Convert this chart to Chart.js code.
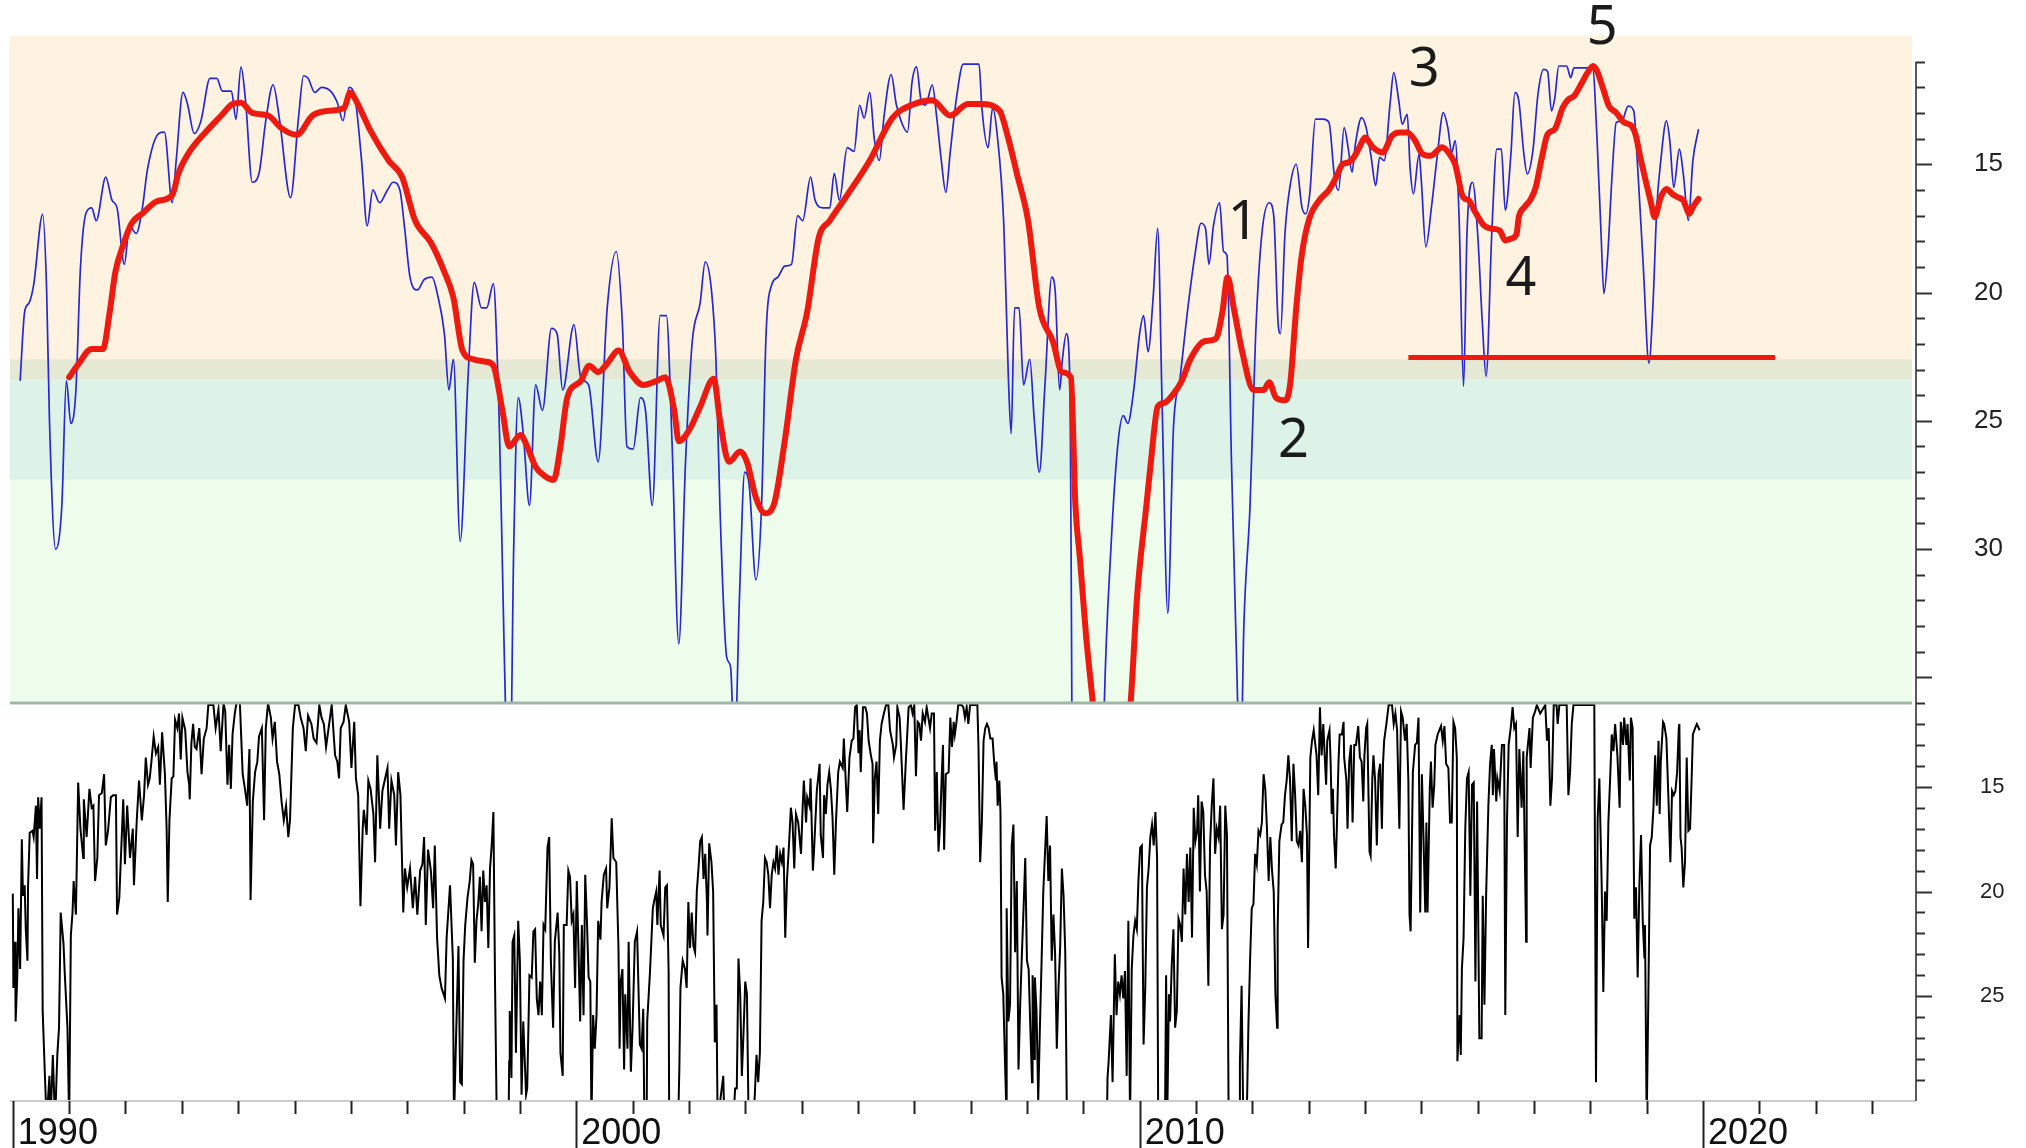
<!DOCTYPE html>
<html>
<head>
<meta charset="utf-8">
<script src="https://cdn.jsdelivr.net/npm/chart.js@4.4.1/dist/chart.umd.min.js"></script>
<style>
  html, body { margin: 0; padding: 0; background: #ffffff; }
  #wrap { width: 2026px; height: 1148px; position: relative; }
</style>
</head>
<body>
<div id="wrap"><canvas id="chart"></canvas></div>
<script>
// ---- data: [year, value] ----

// thin blue line, upper panel
const blueSmooth = [
  [1990.13,23.44],[1990.21,20.75],[1990.29,20.4],[1990.37,19.7],[1990.53,16.95],[1990.6,19.9],[1990.65,24.96],[1990.76,30.0],[1990.87,28.3],[1990.95,23.44],
  [1991.03,25.1],[1991.12,23.8],[1991.2,19.06],[1991.3,16.9],[1991.4,16.7],[1991.48,17.2],[1991.65,15.5],[1991.76,16.4],[1991.85,16.7],[1991.98,18.9],
  [1992.07,17.4],[1992.19,17.7],[1992.3,16.7],[1992.39,15.2],[1992.59,13.8],[1992.69,13.75],[1992.83,16.5],[1992.9,14.85],
  [1993.02,12.2],[1993.1,12.65],[1993.22,13.8],[1993.34,13.3],[1993.5,11.65],[1993.62,11.65],[1993.72,12.15],[1993.88,12.15],[1993.96,13.25],
  [1994.05,11.2],[1994.13,12.5],[1994.25,15.7],[1994.37,15.35],[1994.49,13.3],[1994.62,11.9],[1994.73,13.2],[1994.93,16.3],
  [1995.07,13.2],[1995.16,11.55],[1995.24,11.65],[1995.36,12.2],[1995.48,12.0],[1995.64,12.15],[1995.76,12.6],[1995.86,13.3],[1995.97,12.0],
  [1996.08,12.5],[1996.19,14.85],[1996.29,17.4],[1996.39,16.0],[1996.51,16.5],[1996.65,16.0],[1996.75,15.7],[1996.87,16.0],[1996.95,17.4],
  [1997.05,19.4],[1997.18,19.9],[1997.3,19.5],[1997.44,19.4],[1997.54,20.1],[1997.66,21.6],[1997.74,23.8],[1997.82,22.6],[1997.94,29.7],
  [1998.08,23.3],[1998.19,19.6],[1998.32,20.6],[1998.41,20.6],[1998.53,19.65],[1998.61,23.3],[1998.82,40],[1998.89,30.0],[1998.97,24.1],
  [1999.06,25.5],[1999.17,28.3],[1999.28,23.6],[1999.4,24.6],[1999.56,21.4],[1999.66,21.6],[1999.76,23.8],[1999.96,21.25],
  [2000.08,23.3],[2000.22,23.6],[2000.39,26.6],[2000.55,20.6],[2000.71,18.4],[2000.82,21.25],[2000.9,26.0],
  [2001.01,26.1],[2001.14,24.1],[2001.23,24.6],[2001.35,28.3],[2001.49,20.9],[2001.6,20.9],[2001.7,25.8],[2001.82,33.7],[2001.94,26.6],
  [2002.06,21.9],[2002.2,20.4],[2002.29,18.8],[2002.4,19.9],[2002.48,22.6],[2002.55,28.3],[2002.67,34.2],[2002.74,34.6],[2002.81,38],[2002.9,31.7],[2002.99,27.0],
  [2003.07,27.5],[2003.19,31.2],[2003.29,28.3],[2003.37,21.6],[2003.47,19.7],[2003.58,19.4],[2003.7,18.97],[2003.82,18.9],[2003.93,17.0],
  [2004.02,17.2],[2004.16,15.5],[2004.24,16.4],[2004.38,16.7],[2004.5,16.7],[2004.58,15.35],[2004.67,16.4],[2004.81,14.35],[2004.93,14.5],
  [2005.03,12.7],[2005.11,13.2],[2005.21,12.2],[2005.29,14.0],[2005.38,14.85],[2005.46,13.2],[2005.59,11.5],[2005.68,12.65],[2005.8,13.5],[2005.88,13.75],[2005.96,11.8],
  [2006.04,11.2],[2006.12,12.5],[2006.2,12.7],[2006.32,11.9],[2006.4,13.2],[2006.48,14.85],[2006.56,16.1],[2006.64,14.5],[2006.75,12.4],[2006.87,11.1],
  [2007.15,11.1],[2007.2,12.8],[2007.31,14.35],[2007.39,12.8],[2007.47,13.8],[2007.59,17.4],[2007.67,23.3],[2007.72,25.5],[2007.78,20.6],[2007.86,20.6],[2007.94,23.6],
  [2008.05,22.6],[2008.13,24.96],[2008.22,27.0],[2008.32,23.6],[2008.44,19.4],[2008.5,19.9],[2008.58,23.8],[2008.63,22.6],[2008.7,21.6],[2008.76,23.3],[2008.84,50],
  [2009.3,45],[2009.37,36.3],[2009.49,30.0],[2009.61,26.0],[2009.71,24.8],[2009.79,25.1],[2009.89,23.9],
  [2010.0,21.6],[2010.07,20.9],[2010.15,22.3],[2010.24,20.2],[2010.32,17.5],[2010.4,24.45],[2010.5,32.5],[2010.6,25.3],[2010.72,23.3],[2010.84,20.9],[2010.98,18.56],
  [2011.09,17.3],[2011.17,17.5],[2011.23,18.9],[2011.31,17.4],[2011.42,16.5],[2011.49,18.4],[2011.55,18.56],[2011.63,26.6],[2011.71,33.4],[2011.79,39],[2011.85,33.0],[2011.96,28.3],
  [2012.06,21.6],[2012.17,17.7],[2012.3,16.5],[2012.38,17.0],[2012.46,21.25],[2012.5,21.6],[2012.58,17.7],[2012.67,15.85],[2012.78,15.0],[2012.88,16.67],[2012.95,16.93],
  [2013.02,16.15],[2013.12,13.24],[2013.26,13.24],[2013.36,13.37],[2013.46,15.51],[2013.53,16.02],[2013.63,13.57],[2013.7,14.34],[2013.77,15.31],[2013.83,14.21],[2013.94,13.18],
  [2014.02,13.57],[2014.11,14.73],[2014.19,15.83],[2014.26,14.73],[2014.34,14.86],[2014.45,12.53],[2014.51,11.43],[2014.6,12.53],[2014.66,13.44],[2014.75,13.05],[2014.8,15.12],[2014.86,16.15],[2014.96,14.6],
  [2015.0,15.64],[2015.08,18.22],[2015.18,16.67],[2015.28,14.73],[2015.39,12.99],[2015.47,13.57],[2015.54,14.54],[2015.6,14.08],[2015.67,17.06],[2015.75,23.66],[2015.81,17.71],[2015.91,15.7],
  [2016.0,17.71],[2016.08,21.07],[2016.15,23.27],[2016.25,17.71],[2016.34,14.41],[2016.42,14.41],[2016.49,16.8],[2016.59,14.6],[2016.66,12.21],[2016.73,12.53],[2016.82,14.6],[2016.88,15.38],[2016.98,14.47],
  [2017.07,12.27],[2017.17,11.3],[2017.24,11.37],[2017.31,12.92],[2017.37,12.4],[2017.44,11.17],[2017.58,11.17],[2017.65,11.62],[2017.71,11.24],[2017.78,11.24],
  [2018.04,11.24],[2018.12,14.08],[2018.19,17.71],[2018.24,20.04],[2018.31,18.48],[2018.38,15.64],[2018.46,13.37],[2018.56,13.31],[2018.67,12.73],[2018.77,12.92],[2018.84,15.12],[2018.94,19.0],
  [2019.04,22.75],[2019.11,20.55],[2019.18,16.67],[2019.25,14.86],[2019.35,13.31],[2019.41,14.08],[2019.48,15.9],[2019.58,14.41],[2019.65,15.38],[2019.74,17.19],[2019.82,14.86],[2019.92,13.63]
];

// thick red average, upper panel
const redAverage = [
  [1991.0,23.3],[1991.16,22.8],[1991.4,22.2],[1991.6,22.2],[1991.72,20.75],[1991.82,19.2],[1991.95,18.2],
  [1992.11,17.3],[1992.31,16.9],[1992.55,16.45],[1992.83,16.2],[1992.94,15.35],
  [1993.14,14.5],[1993.42,13.75],[1993.7,13.1],[1993.9,12.65],
  [1994.05,12.6],[1994.25,13.0],[1994.53,13.1],[1994.77,13.6],
  [1995.04,13.85],[1995.32,13.1],[1995.68,12.9],[1995.88,12.8],[1995.99,12.2],
  [1996.11,12.6],[1996.35,13.7],[1996.67,14.85],[1996.91,15.5],
  [1997.14,17.2],[1997.42,18.05],[1997.66,19.2],[1997.82,20.2],[1997.98,22.25],
  [1998.17,22.6],[1998.41,22.7],[1998.53,22.85],[1998.69,24.6],[1998.81,26.0],
  [1999.01,25.55],[1999.13,26.0],[1999.28,26.8],[1999.44,27.15],[1999.6,27.3],[1999.72,26.0],[1999.84,24.1],
  [2000.08,23.45],[2000.23,22.85],[2000.39,23.1],[2000.55,22.77],[2000.75,22.26],[2000.95,23.1],
  [2001.19,23.6],[2001.42,23.45],[2001.58,23.3],[2001.74,24.6],[2001.82,25.8],
  [2002.02,25.3],[2002.2,24.45],[2002.44,23.36],[2002.55,24.96],[2002.71,26.6],[2002.91,26.2],
  [2003.03,26.6],[2003.19,28.0],[2003.35,28.6],[2003.51,28.25],[2003.7,25.8],[2003.9,22.6],
  [2004.1,20.75],[2004.3,17.9],[2004.5,17.2],[2004.81,16.2],
  [2005.21,14.85],[2005.61,13.2],
  [2006.0,12.65],[2006.32,12.5],[2006.64,13.1],[2006.95,12.65],
  [2007.19,12.65],[2007.51,12.9],[2007.67,14.0],[2007.82,15.35],
  [2008.02,17.2],[2008.22,20.6],[2008.46,21.9],[2008.62,23.1],[2008.78,23.3],[2008.86,28.3],[2008.94,30.35],
  [2009.05,33.4],[2009.17,36.0],[2009.3,39],[2009.7,39],[2009.84,36],[2009.96,31.7],
  [2010.12,28.3],[2010.2,26.6],[2010.32,24.45],[2010.44,24.3],[2010.6,23.95],[2010.75,23.44],[2010.9,22.6],
  [2011.15,21.9],[2011.35,21.8],[2011.47,20.75],[2011.56,19.4],[2011.67,20.6],[2011.83,22.4],
  [2012.02,23.8],[2012.2,23.8],[2012.3,23.5],[2012.42,24.1],[2012.58,24.2],[2012.67,23.6],[2012.78,20.6],[2012.88,18.5],
  [2013.02,17.06],[2013.19,16.4],[2013.36,16.0],[2013.49,15.5],[2013.6,15.0],[2013.7,14.93],[2013.8,14.73],[2013.9,14.34],
  [2014.0,13.96],[2014.14,14.34],[2014.31,14.54],[2014.48,13.89],[2014.62,13.76],[2014.75,13.76],[2014.89,14.08],
  [2015.02,14.6],[2015.16,14.67],[2015.37,14.34],[2015.5,14.6],[2015.6,15.0],[2015.74,16.28],[2015.84,16.4],[2015.94,16.8],
  [2016.11,17.38],[2016.25,17.51],[2016.39,17.58],[2016.49,17.97],[2016.59,17.9],[2016.69,17.71],[2016.73,17.06],[2016.83,16.67],[2016.93,16.4],
  [2017.03,15.9],[2017.14,14.73],[2017.24,13.83],[2017.37,13.63],[2017.51,12.79],[2017.61,12.47],[2017.71,12.34],[2017.85,11.82],[2017.95,11.43],
  [2018.05,11.17],[2018.12,11.37],[2018.22,12.01],[2018.33,12.73],[2018.46,12.99],[2018.6,13.37],[2018.73,13.5],[2018.8,13.83],[2018.9,14.86],
  [2019.01,15.9],[2019.08,16.54],[2019.14,17.06],[2019.25,16.28],[2019.35,15.96],[2019.45,16.15],[2019.55,16.28],[2019.65,16.41],[2019.76,16.93],[2019.82,16.67],[2019.92,16.35]
];

// horizontal red support line
const supportYears = [2014.77, 2021.28];
const supportLevel = 22.53;

// black raw line, lower panel
const blackWeekly = [
  [1990.00,20.1],[1990.01,24.6],[1990.04,22.4],[1990.05,26.2],[1990.08,24.0],[1990.10,20.8],[1990.13,23.7],[1990.16,17.5],[1990.18,20.2],[1990.21,19.7],[1990.23,21.8],[1990.26,23.3],[1990.27,19.8],[1990.30,17.2],[1990.35,17.1],[1990.37,17.4],[1990.41,15.9],[1990.43,19.4],[1990.45,15.5],[1990.48,17.0],[1990.51,15.5],[1990.53,25.7],[1990.57,28.8],[1990.60,31],[1990.65,28.8],[1990.67,31],[1990.71,27.8],[1990.75,31],[1990.79,27.8],[1990.82,26.5],[1990.85,21.0],[1990.90,22.5],[1990.92,23.8],[1990.97,26.5],
  [1991.00,31],[1991.03,22.1],[1991.06,21.0],[1991.08,19.5],[1991.12,21.1],[1991.16,14.8],[1991.20,17.0],[1991.25,18.4],[1991.26,15.6],[1991.31,17.4],[1991.36,15.1],[1991.40,16.0],[1991.43,15.9],[1991.46,19.5],[1991.50,18.4],[1991.53,15.4],[1991.58,15.3],[1991.62,14.4],[1991.65,17.8],[1991.69,17.1],[1991.74,15.5],[1991.78,15.4],[1991.83,15.4],[1991.85,21.1],[1991.89,20.3],[1991.96,15.6],[1991.99,18.7],
  [1992.03,15.9],[1992.08,18.4],[1992.13,17.0],[1992.15,19.7],[1992.20,16.6],[1992.24,14.7],[1992.29,16.6],[1992.33,15.4],[1992.36,13.6],[1992.40,14.9],[1992.43,14.6],[1992.46,13.8],[1992.50,12.6],[1992.54,13.4],[1992.58,13.1],[1992.61,14.9],[1992.65,12.4],[1992.70,14.4],[1992.73,17.0],[1992.75,20.5],[1992.78,16.6],[1992.82,14.6],[1992.85,14.5],[1992.88,11.8],[1992.92,12.2],[1992.95,11.5],[1992.98,13.7],
  [1993.01,11.7],[1993.06,12.3],[1993.10,14.3],[1993.13,14.9],[1993.14,15.6],[1993.17,12.9],[1993.20,12.0],[1993.23,13.1],[1993.26,13.2],[1993.31,12.2],[1993.35,14.4],[1993.39,12.7],[1993.44,12.2],[1993.47,11.1],[1993.56,11.1],[1993.60,12.2],[1993.65,11.3],[1993.69,13.3],[1993.74,11.0],[1993.77,11.4],[1993.81,14.9],[1993.84,13.0],[1993.87,15.1],[1993.90,12.5],[1993.94,11.5],[1993.97,11.0],
  [1994.03,11.0],[1994.08,14.4],[1994.12,15.1],[1994.16,15.9],[1994.20,13.2],[1994.22,20.4],[1994.26,15.7],[1994.30,14.3],[1994.34,13.8],[1994.37,12.6],[1994.42,12.2],[1994.46,16.6],[1994.49,12.2],[1994.53,11.0],[1994.58,11.7],[1994.61,12.7],[1994.65,11.9],[1994.69,13.8],[1994.73,14.4],[1994.77,15.7],[1994.81,16.6],[1994.85,15.9],[1994.89,17.4],[1994.92,16.6],[1994.97,12.2],
  [1995.01,11.1],[1995.07,11.1],[1995.11,11.7],[1995.16,12.2],[1995.20,13.3],[1995.24,11.6],[1995.30,12.0],[1995.34,12.7],[1995.39,12.9],[1995.44,11.1],[1995.48,11.7],[1995.52,12.0],[1995.56,13.1],[1995.60,12.3],[1995.66,11.1],[1995.72,13.5],[1995.76,13.8],[1995.79,14.6],[1995.82,12.2],[1995.87,11.9],[1995.91,11.1],[1995.97,11.9],
  [1996.01,14.1],[1996.06,11.9],[1996.09,14.6],[1996.13,15.4],[1996.17,20.7],[1996.21,17.0],[1996.23,16.1],[1996.28,17.3],[1996.31,14.7],[1996.35,15.1],[1996.40,16.3],[1996.43,18.6],[1996.47,13.5],[1996.52,17.0],[1996.56,15.2],[1996.60,14.7],[1996.65,14.1],[1996.68,17.0],[1996.72,14.7],[1996.77,15.4],[1996.80,17.8],[1996.84,14.3],[1996.88,15.4],[1996.93,21.0],[1996.96,18.9],
  [1997.00,19.8],[1997.05,18.9],[1997.10,20.8],[1997.14,19.3],[1997.18,21.1],[1997.23,19.0],[1997.27,18.7],[1997.30,17.4],[1997.33,21.6],[1997.37,18.0],[1997.42,19.0],[1997.46,20.8],[1997.49,17.8],[1997.53,22.2],[1997.57,24.0],[1997.61,24.6],[1997.67,25.1],[1997.70,22.2],[1997.76,19.7],[1997.81,23.2],[1997.83,31],[1997.87,26.7],[1997.91,22.6],[1997.94,29.1],[1997.97,29.2],
  [1998.00,23.3],[1998.03,21.6],[1998.07,20.3],[1998.11,19.5],[1998.14,18.5],[1998.17,18.7],[1998.20,23.4],[1998.23,21.4],[1998.26,20.6],[1998.29,19.3],[1998.32,21.9],[1998.35,19.0],[1998.38,20.5],[1998.41,19.7],[1998.44,22.7],[1998.47,18.9],[1998.50,17.8],[1998.53,16.2],[1998.56,24.6],[1998.59,31],[1998.80,31],[1998.81,28.1],[1998.82,25.7],[1998.85,28.9],[1998.87,22.4],[1998.90,22.1],[1998.93,27.7],[1998.97,21.4],
  [1999.00,23.3],[1999.03,29.7],[1999.06,26.2],[1999.11,29.7],[1999.13,29.4],[1999.17,24.0],[1999.21,24.1],[1999.24,21.9],[1999.27,21.8],[1999.30,25.1],[1999.33,25.9],[1999.36,24.3],[1999.39,25.9],[1999.42,21.6],[1999.45,21.8],[1999.49,17.9],[1999.52,17.4],[1999.55,23.3],[1999.59,26.5],[1999.62,22.4],[1999.67,21.0],[1999.70,23.0],[1999.72,27.7],[1999.76,28.8],[1999.78,21.6],[1999.83,21.6],[1999.86,19.0],[1999.89,19.3],[1999.92,21.4],[1999.95,21.1],[1999.98,24.6],
  [2000.01,19.5],[2000.04,22.7],[2000.07,26.2],[2000.10,21.6],[2000.13,25.9],[2000.16,19.2],[2000.19,21.4],[2000.22,24.1],[2000.25,24.3],[2000.27,31],[2000.30,25.9],[2000.33,27.5],[2000.36,25.9],[2000.39,21.4],[2000.43,22.3],[2000.45,20.5],[2000.49,19.2],[2000.53,18.9],[2000.55,20.8],[2000.59,19.8],[2000.63,16.5],[2000.66,18.4],[2000.71,18.6],[2000.75,22.7],[2000.77,27.5],[2000.79,24.3],[2000.82,23.7],[2000.85,28.5],[2000.87,24.9],[2000.91,27.5],[2000.93,22.4],[2000.97,28.6],
  [2001.00,26.5],[2001.04,22.4],[2001.08,21.9],[2001.13,27.3],[2001.16,27.5],[2001.19,25.6],[2001.21,31],[2001.25,31],[2001.26,26.2],[2001.31,23.8],[2001.36,20.8],[2001.38,20.5],[2001.42,20.0],[2001.44,21.6],[2001.48,19.0],[2001.50,21.6],[2001.55,22.1],[2001.58,19.8],[2001.61,19.7],[2001.64,23.8],[2001.65,31],[2001.81,31],[2001.83,28.5],[2001.85,24.6],[2001.89,23.3],[2001.93,23.7],[2001.96,24.6],[2001.99,20.5],
  [2002.02,22.7],[2002.05,21.0],[2002.08,22.6],[2002.11,22.9],[2002.14,20.0],[2002.17,18.9],[2002.20,17.6],[2002.23,17.4],[2002.26,19.4],[2002.29,18.2],[2002.32,20.5],[2002.33,22.1],[2002.36,17.7],[2002.40,18.6],[2002.43,20.0],[2002.46,27.2],[2002.49,25.4],[2002.51,31],[2002.61,28.8],[2002.63,31],[2002.79,31],[2002.82,29.4],[2002.85,29.4],[2002.88,23.2],[2002.91,24.9],[2002.94,28.8],[2002.97,26.7],
  [2003.00,24.3],[2003.03,24.9],[2003.06,31],[2003.14,31],[2003.17,29.7],[2003.20,27.8],[2003.23,29.1],[2003.26,27.7],[2003.29,21.4],[2003.32,20.5],[2003.35,18.4],[2003.38,18.6],[2003.41,19.2],[2003.44,20.8],[2003.47,19.2],[2003.50,18.6],[2003.53,18.9],[2003.56,17.8],[2003.59,19.2],[2003.62,18.2],[2003.65,18.6],[2003.68,17.9],[2003.71,22.2],[2003.74,19.5],[2003.78,17.6],[2003.81,16.0],[2003.84,16.7],[2003.87,18.9],[2003.90,16.3],[2003.94,16.7],[2003.99,18.2],
  [2004.02,15.9],[2004.04,14.7],[2004.08,16.7],[2004.10,15.5],[2004.14,15.9],[2004.16,14.6],[2004.20,19.0],[2004.22,18.1],[2004.27,15.2],[2004.32,13.9],[2004.34,17.3],[2004.38,18.4],[2004.40,15.4],[2004.43,16.3],[2004.46,14.9],[2004.49,14.3],[2004.52,15.1],[2004.55,16.5],[2004.58,19.2],[2004.61,16.7],[2004.65,14.3],[2004.68,13.8],[2004.73,14.1],[2004.75,12.7],[2004.79,15.1],[2004.81,16.2],[2004.85,13.6],[2004.89,12.8],[2004.92,12.7],[2004.95,11.2],[2004.98,11.1],
  [2005.01,13.4],[2005.03,12.3],[2005.05,14.3],[2005.09,11.2],[2005.13,11.2],[2005.16,11.5],[2005.19,12.8],[2005.23,13.5],[2005.26,13.9],[2005.27,17.7],[2005.30,14.6],[2005.33,13.8],[2005.36,16.3],[2005.39,12.8],[2005.42,12.0],[2005.46,11.5],[2005.50,11.1],[2005.54,11.1],[2005.57,12.3],[2005.62,13.0],[2005.64,13.6],[2005.68,13.0],[2005.70,11.2],[2005.74,11.7],[2005.76,12.8],[2005.81,16.1],[2005.85,13.8],[2005.90,11.2],[2005.94,11.1],[2005.97,11.5],
  [2006.00,11.1],[2006.03,14.5],[2006.06,11.9],[2006.09,12.0],[2006.12,12.8],[2006.15,11.5],[2006.19,11.9],[2006.22,11.2],[2006.25,11.7],[2006.28,12.2],[2006.31,11.5],[2006.35,11.5],[2006.37,17.1],[2006.40,14.3],[2006.43,18.1],[2006.46,16.7],[2006.49,14.3],[2006.51,13.0],[2006.53,18.0],[2006.56,14.4],[2006.61,14.3],[2006.64,11.7],[2006.67,13.1],[2006.70,11.9],[2006.72,12.5],[2006.75,11.9],[2006.78,11.1],[2006.84,11.1],[2006.87,11.2],[2006.90,11.7],[2006.93,11.2],[2006.96,12.0],[2006.99,11.1],
  [2007.08,11.1],[2007.12,11.1],[2007.14,13.1],[2007.17,18.6],[2007.20,16.7],[2007.23,12.8],[2007.26,12.2],[2007.29,12.0],[2007.32,12.2],[2007.35,12.7],[2007.39,12.7],[2007.42,13.9],[2007.45,14.7],[2007.46,13.8],[2007.48,15.9],[2007.51,14.7],[2007.53,16.2],[2007.55,24.1],[2007.58,24.9],[2007.61,28.1],[2007.63,30.0],[2007.64,20.8],[2007.67,26.2],[2007.70,25.4],[2007.73,17.8],[2007.76,16.8],[2007.79,22.9],[2007.82,19.5],[2007.85,28.5],[2007.88,25.4],[2007.91,23.0],[2007.94,20.8],[2007.97,18.4],
  [2008.00,23.3],[2008.03,23.7],[2008.06,26.5],[2008.09,29.1],[2008.10,24.0],[2008.13,28.0],[2008.14,24.1],[2008.17,25.7],[2008.20,30.0],[2008.23,26.5],[2008.26,23.3],[2008.29,20.0],[2008.32,18.2],[2008.35,16.4],[2008.38,19.5],[2008.41,17.8],[2008.44,23.3],[2008.47,21.1],[2008.50,23.0],[2008.53,27.5],[2008.56,24.6],[2008.59,22.6],[2008.62,18.9],[2008.65,20.2],[2008.68,22.9],[2008.71,31],
  [2009.42,31],[2009.43,28.9],[2009.45,28.1],[2009.49,25.9],[2009.52,29.1],[2009.56,23.0],[2009.59,25.9],[2009.62,24.3],[2009.65,24.9],[2009.68,24.0],[2009.71,25.1],[2009.74,23.8],[2009.77,28.8],[2009.80,21.4],[2009.83,31],[2009.86,23.7],[2009.89,22.1],[2009.92,21.4],[2009.95,21.8],[2009.98,19.4],
  [2010.01,17.9],[2010.04,17.8],[2010.07,27.3],[2010.10,24.6],[2010.13,19.8],[2010.16,18.9],[2010.19,17.4],[2010.22,16.8],[2010.25,17.8],[2010.28,16.2],[2010.31,18.4],[2010.33,31],[2010.45,31],[2010.47,24.0],[2010.49,31],[2010.52,24.9],[2010.54,26.2],[2010.57,23.5],[2010.60,21.8],[2010.63,26.5],[2010.66,25.7],[2010.69,21.3],[2010.72,21.6],[2010.75,22.4],[2010.78,18.9],[2010.81,21.1],[2010.84,18.2],[2010.87,20.5],[2010.90,17.9],[2010.93,22.2],[2010.96,16.0],[2010.99,17.6],
  [2011.02,17.1],[2011.04,15.4],[2011.07,20.0],[2011.10,15.7],[2011.13,16.2],[2011.16,19.2],[2011.19,20.0],[2011.22,24.5],[2011.25,17.8],[2011.28,15.9],[2011.31,14.6],[2011.34,18.2],[2011.37,17.0],[2011.40,17.4],[2011.43,15.9],[2011.46,21.8],[2011.49,21.1],[2011.52,15.9],[2011.55,17.3],[2011.58,31],[2011.77,31],[2011.78,28.2],[2011.81,24.5],[2011.84,31],[2011.90,31],[2011.93,26.5],[2011.96,23.3],[2011.99,20.8],
  [2012.02,20.6],[2012.05,18.2],[2012.08,18.7],[2012.11,17.1],[2012.14,17.3],[2012.17,16.7],[2012.20,14.4],[2012.23,15.1],[2012.26,17.0],[2012.29,19.5],[2012.32,17.4],[2012.35,19.0],[2012.38,20.0],[2012.41,24.9],[2012.44,26.5],[2012.45,21.8],[2012.48,17.6],[2012.52,16.8],[2012.55,16.7],[2012.58,15.4],[2012.61,14.7],[2012.64,13.5],[2012.67,14.7],[2012.70,17.6],[2012.73,13.9],[2012.76,15.4],[2012.79,17.6],[2012.82,17.8],[2012.85,17.1],[2012.88,18.6],[2012.91,15.1],[2012.94,15.9],[2012.97,17.3],[2012.99,22.7],
  [2013.03,13.6],[2013.06,12.8],[2013.09,12.3],[2013.11,12.8],[2013.14,13.5],[2013.17,15.4],[2013.20,11.2],[2013.23,13.5],[2013.26,12.0],[2013.29,13.8],[2013.31,14.9],[2013.33,12.8],[2013.37,12.3],[2013.39,13.8],[2013.41,16.3],[2013.43,15.1],[2013.45,17.3],[2013.48,18.9],[2013.50,17.0],[2013.53,13.8],[2013.55,12.5],[2013.59,12.5],[2013.62,11.9],[2013.63,13.6],[2013.67,14.7],[2013.69,17.0],[2013.72,13.8],[2013.75,13.0],[2013.78,16.7],[2013.81,13.0],[2013.84,13.0],[2013.88,12.1],[2013.91,13.6],[2013.94,13.8],[2013.97,15.7],[2013.99,13.5],
  [2014.02,12.2],[2014.04,12.0],[2014.08,18.1],[2014.10,18.3],[2014.13,14.6],[2014.15,13.5],[2014.18,14.7],[2014.21,17.8],[2014.24,14.4],[2014.27,13.9],[2014.30,17.0],[2014.32,13.9],[2014.34,12.8],[2014.38,12.0],[2014.42,11.1],[2014.48,11.1],[2014.51,12.0],[2014.54,11.5],[2014.57,12.3],[2014.61,17.0],[2014.64,11.4],[2014.67,11.7],[2014.71,12.8],[2014.74,12.0],[2014.77,14.7],[2014.79,21.1],[2014.81,21.9],[2014.85,14.3],[2014.89,13.0],[2014.92,12.9],[2014.95,11.7],[2014.98,21.0],
  [2015.01,14.4],[2015.04,17.6],[2015.07,21.0],[2015.09,16.7],[2015.11,21.0],[2015.15,15.1],[2015.17,13.8],[2015.20,16.0],[2015.23,14.9],[2015.25,13.0],[2015.29,12.5],[2015.32,12.3],[2015.35,12.1],[2015.38,12.8],[2015.41,12.1],[2015.44,13.9],[2015.48,14.1],[2015.51,16.7],[2015.54,16.7],[2015.57,11.9],[2015.60,12.2],[2015.63,13.6],[2015.64,28.1],[2015.68,25.9],[2015.70,27.8],[2015.72,23.7],[2015.75,22.2],[2015.78,17.0],[2015.81,14.6],[2015.84,14.3],[2015.87,20.2],[2015.90,14.9],[2015.93,14.8],[2015.96,24.3],[2015.99,15.7],
  [2016.03,27.0],[2016.07,27.0],[2016.09,20.2],[2016.12,25.4],[2016.15,20.2],[2016.19,15.9],[2016.22,13.9],[2016.25,13.0],[2016.27,15.4],[2016.29,13.2],[2016.33,15.7],[2016.35,14.6],[2016.39,15.2],[2016.43,13.0],[2016.47,13.0],[2016.49,25.9],[2016.52,16.7],[2016.55,13.0],[2016.59,12.1],[2016.62,11.2],[2016.65,12.2],[2016.68,12.0],[2016.71,17.4],[2016.74,13.2],[2016.78,16.0],[2016.81,13.3],[2016.86,22.4],[2016.87,13.6],[2016.92,12.2],[2016.94,14.1],[2016.98,11.7],
  [2017.02,11.4],[2017.05,11.1],[2017.11,11.5],[2017.20,11.1],[2017.23,12.8],[2017.26,12.2],[2017.29,15.9],[2017.32,14.6],[2017.35,11.1],[2017.40,11.1],[2017.42,12.0],[2017.45,11.1],[2017.58,11.1],[2017.61,15.4],[2017.64,14.3],[2017.67,12.0],[2017.70,11.1],
  [2018.07,11.1],[2018.10,29.1],[2018.13,16.5],[2018.16,14.6],[2018.20,19.5],[2018.23,24.8],[2018.26,20.0],[2018.29,21.4],[2018.32,16.7],[2018.35,14.7],[2018.38,12.5],[2018.41,13.3],[2018.44,12.0],[2018.48,13.5],[2018.52,16.0],[2018.54,11.9],[2018.58,13.0],[2018.60,11.7],[2018.64,13.0],[2018.66,12.0],[2018.70,14.7],[2018.72,11.7],[2018.75,12.2],[2018.78,21.3],[2018.81,19.8],[2018.84,24.1],[2018.87,19.7],[2018.90,17.3],[2018.93,21.4],[2018.96,23.2],[2018.97,21.6],
  [2019.00,31],[2019.03,24.9],[2019.06,17.8],[2019.09,17.4],[2019.12,16.0],[2019.15,13.5],[2019.18,15.9],[2019.21,12.8],[2019.23,16.3],[2019.25,13.8],[2019.29,11.9],[2019.31,12.0],[2019.35,12.7],[2019.39,15.9],[2019.42,18.6],[2019.45,15.2],[2019.48,15.4],[2019.51,15.2],[2019.54,14.3],[2019.57,12.2],[2019.58,12.0],[2019.60,17.4],[2019.62,17.9],[2019.65,19.8],[2019.68,18.6],[2019.71,13.6],[2019.74,17.1],[2019.77,17.0],[2019.80,14.4],[2019.82,12.5],[2019.86,12.2],[2019.89,12.0],[2019.94,12.3]
];

// wave count labels on the upper panel
const waveLabels = ['1', '2', '3', '4', '5'];
const waveYears  = [2011.84, 2012.73, 2015.05, 2016.77, 2018.21];
const waveLevels = [17.33, 25.8, 11.35, 19.5, 9.7];

// background zones of the upper panel (value edges, top to bottom)
const zoneEdges  = [10, 22.6, 23.4, 27.3, 36];
const zoneColors = ['#fdf3e0', '#e5e9d3', '#def3e8', '#eefcec'];

// axes
const xRange      = [1989.95, 2023.78];
const decadeYears = [1990, 2000, 2010, 2020];
const topRange    = [10, 36];
const topLabels   = [15, 20, 25, 30];
const bottomRange = [11, 30];
const bottomLabels = [15, 20, 25];

// ---------------------------------------------------------------

const toXY = s => s.map(p => ({ x: p[0], y: p[1] }));

const decor = {
  id: 'decor',
  beforeDatasetsDraw(chart) {
    const { ctx, chartArea } = chart;
    const yT = chart.scales.yTop;
    const right = chartArea.right - 4;
    ctx.save();
    for (let i = 0; i < zoneColors.length; i++) {
      const y0 = yT.getPixelForValue(zoneEdges[i]);
      const y1 = yT.getPixelForValue(zoneEdges[i + 1]);
      ctx.fillStyle = zoneColors[i];
      ctx.fillRect(chartArea.left, y0, right - chartArea.left, y1 - y0);
    }
    ctx.restore();
  },
  afterDatasetsDraw(chart) {
    const { ctx, chartArea } = chart;
    const x = chart.scales.x, yT = chart.scales.yTop, yB = chart.scales.yBottom;
    const axisX = chartArea.right;
    ctx.save();

    // panel separator
    ctx.strokeStyle = '#9fb7a7';
    ctx.lineWidth = 3;
    ctx.beginPath();
    ctx.moveTo(chartArea.left, yT.bottom);
    ctx.lineTo(chartArea.right - 4, yT.bottom);
    ctx.stroke();

    // bottom axis line
    ctx.strokeStyle = '#cccccc';
    ctx.lineWidth = 2;
    ctx.beginPath();
    ctx.moveTo(chartArea.left, chartArea.bottom);
    ctx.lineTo(axisX, chartArea.bottom);
    ctx.stroke();

    // right axis line + ticks
    ctx.strokeStyle = '#333333';
    ctx.lineWidth = 1.6;
    ctx.beginPath();
    ctx.moveTo(axisX, yT.getPixelForValue(11));
    ctx.lineTo(axisX, chartArea.bottom);
    ctx.stroke();
    ctx.lineWidth = 2;
    ctx.beginPath();
    for (let v = 11; v <= topRange[1]; v++) {
      const py = Math.round(yT.getPixelForValue(v)) + 0.5;
      ctx.moveTo(axisX, py);
      ctx.lineTo(axisX + (v % 5 === 0 ? 16 : 9), py);
    }
    for (let v = bottomRange[0] + 1; v < bottomRange[1]; v++) {
      const py = Math.round(yB.getPixelForValue(v)) + 0.5;
      ctx.moveTo(axisX, py);
      ctx.lineTo(axisX + (v % 5 === 0 ? 16 : 9), py);
    }
    ctx.stroke();

    // year ticks and decade labels
    ctx.strokeStyle = '#222222';
    ctx.lineWidth = 2;
    ctx.beginPath();
    for (let yr = Math.ceil(xRange[0]); yr <= Math.floor(xRange[1]); yr++) {
      const px = Math.round(x.getPixelForValue(yr)) + 0.5;
      const len = decadeYears.includes(yr) ? chart.height - chartArea.bottom : 13;
      ctx.moveTo(px, chartArea.bottom);
      ctx.lineTo(px, chartArea.bottom + len);
    }
    ctx.stroke();
    ctx.fillStyle = '#111111';
    ctx.font = '36px "Liberation Sans Narrow", "Liberation Sans", sans-serif';
    ctx.textAlign = 'left';
    ctx.textBaseline = 'alphabetic';
    decadeYears.forEach(yr => {
      ctx.fillText(String(yr), x.getPixelForValue(yr) + 5, chartArea.bottom + 43);
    });
    ctx.restore();
  },
  afterDraw(chart) {
    const { ctx } = chart;
    const x = chart.scales.x, yT = chart.scales.yTop;
    ctx.save();
    ctx.fillStyle = '#1b1b1b';
    ctx.font = '54px "Noto Sans", "DejaVu Sans", sans-serif';
    ctx.textAlign = 'center';
    ctx.textBaseline = 'middle';
    waveLabels.forEach((t, i) => {
      ctx.fillText(t, x.getPixelForValue(waveYears[i]), yT.getPixelForValue(waveLevels[i]));
    });
    ctx.restore();
  }
};

function fixAxis(scale) {
  scale.width = 110;
  scale.paddingTop = 0;
  scale.paddingBottom = 0;
}

new Chart(document.getElementById('chart'), {
  type: 'line',
  data: {
    datasets: [
      { label: 'average', data: toXY(redAverage), yAxisID: 'yTop', order: 0,
        borderColor: '#ee1a10', borderWidth: 6, pointRadius: 0,
        cubicInterpolationMode: 'monotone', borderJoinStyle: 'round', borderCapStyle: 'round' },
      { label: 'support', data: supportYears.map(yr => ({ x: yr, y: supportLevel })), yAxisID: 'yTop', order: 1,
        borderColor: '#ee1a10', borderWidth: 5, pointRadius: 0 },
      { label: 'smoothed', data: toXY(blueSmooth), yAxisID: 'yTop', order: 2,
        borderColor: '#2727d6', borderWidth: 1.7, pointRadius: 0, cubicInterpolationMode: 'monotone' },
      { label: 'raw', data: toXY(blackWeekly), yAxisID: 'yBottom', order: 3,
        borderColor: '#000000', borderWidth: 2, pointRadius: 0, tension: 0 }
    ]
  },
  options: {
    responsive: true,
    maintainAspectRatio: false,
    animation: false,
    devicePixelRatio: 1,
    layout: { padding: { top: 36, left: 10, right: 0, bottom: 47 } },
    plugins: { legend: { display: false }, tooltip: { enabled: false } },
    scales: {
      x: { type: 'linear', display: false, min: xRange[0], max: xRange[1] },
      yTop: {
        type: 'linear', position: 'right', stack: 'panels', stackWeight: 667,
        reverse: true, min: topRange[0], max: topRange[1],
        grid: { display: false, drawTicks: false },
        border: { display: false },
        afterBuildTicks: s => { s.ticks = topLabels.map(v => ({ value: v })); },
        ticks: { padding: 58, color: '#222222', autoSkip: false,
                 font: { family: '"Liberation Sans", Arial, sans-serif', size: 26 } },
        afterFit: fixAxis
      },
      yBottom: {
        type: 'linear', position: 'right', stack: 'panels', stackWeight: 398,
        reverse: true, min: bottomRange[0], max: bottomRange[1],
        grid: { display: false, drawTicks: false },
        border: { display: false },
        afterBuildTicks: s => { s.ticks = bottomLabels.map(v => ({ value: v })); },
        ticks: { padding: 64, color: '#222222', autoSkip: false,
                 font: { family: '"Liberation Sans", Arial, sans-serif', size: 22 } },
        afterFit: fixAxis
      }
    }
  },
  plugins: [decor]
});
</script>
</body>
</html>
